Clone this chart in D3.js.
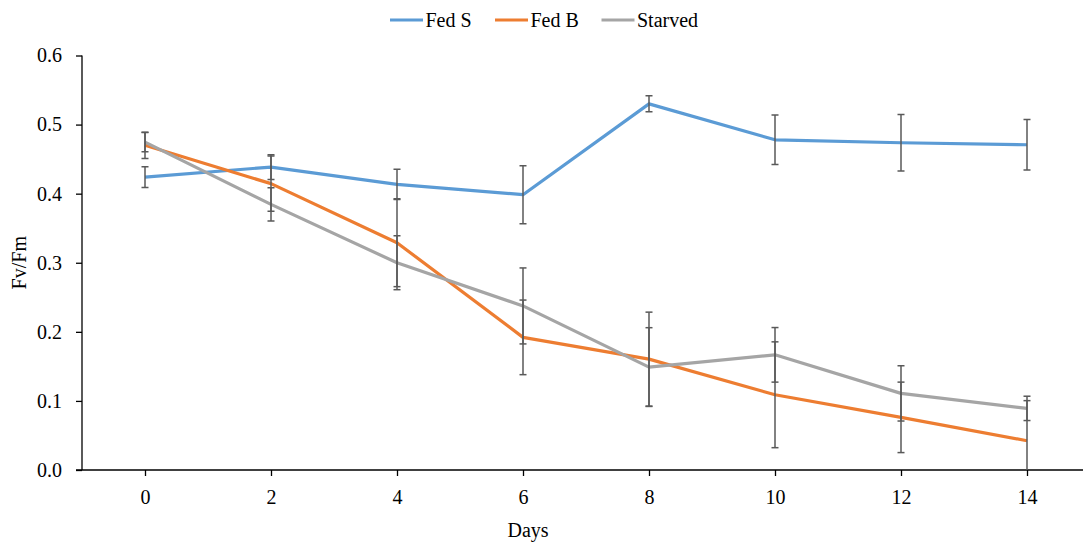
<!DOCTYPE html>
<html><head><meta charset="utf-8">
<script src="https://cdn.jsdelivr.net/npm/d3@7"></script>
<style>
html,body{margin:0;padding:0;background:#fff;}
</style>
</head><body>
<svg id="chart" width="1083" height="542"></svg>
<script>
const days = [0, 2, 4, 6, 8, 10, 12, 14];
const seriesNames = ["Fed S", "Fed B", "Starved"];
const fedS = [0.424, 0.4385, 0.4135, 0.3985, 0.530, 0.478, 0.4737, 0.4708];
const fedSErr = [0.015, 0.018, 0.022, 0.042, 0.0116, 0.0357, 0.041, 0.0366];
const fedB = [0.470, 0.4145, 0.329, 0.192, 0.1605, 0.1089, 0.0762, 0.0424];
const fedBErr = [0.019, 0.040, 0.0636, 0.054, 0.068, 0.0766, 0.051, 0.058];
const starved = [0.4746, 0.3845, 0.300, 0.2375, 0.149, 0.1667, 0.1109, 0.0892];
const starvedErr = [0.014, 0.024, 0.039, 0.055, 0.057, 0.0395, 0.040, 0.0176];
const yTicks = [0, 0.1, 0.2, 0.3, 0.4, 0.5, 0.6];
const colors = ["#5B9BD5", "#ED7D31", "#A5A5A5"];

(function () {
const FONT = "'Liberation Serif', 'Times New Roman', 'DejaVu Serif', serif";
const series = [
  {name: seriesNames[0], values: fedS, err: fedSErr, color: colors[0]},
  {name: seriesNames[1], values: fedB, err: fedBErr, color: colors[1]},
  {name: seriesNames[2], values: starved, err: starvedErr, color: colors[2]}
];

const svg = d3.select("#chart");
const pL = 82, pR = 1090, pT = 55.5, pB = 470;

const x = d3.scalePoint().domain(days).range([pL, pR]).padding(0.5);
const y = d3.scaleLinear().domain([0, 0.6]).range([pB, pT]);

svg.append("defs").append("clipPath").attr("id", "plotClip")
  .append("rect").attr("x", pL).attr("y", pT - 2).attr("width", 1083 - pL).attr("height", pB - pT + 2);

// Y axis
const yAxis = svg.append("g").attr("transform", `translate(${pL},0)`)
  .call(d3.axisLeft(y).tickValues(yTicks).tickFormat(d3.format(".1f")).tickSize(6).tickPadding(14));
yAxis.attr("font-family", null).attr("font-size", null);
yAxis.select(".domain").attr("stroke", "#000").attr("stroke-width", 1.3).attr("d", `M0,${pT}V${pB}`);
yAxis.selectAll(".tick line").attr("stroke", "#000").attr("stroke-width", 1.3);
yAxis.selectAll(".tick text").style("font-size", "20px").style("font-family", FONT).attr("fill", "#000");

// X axis
const xAxis = svg.append("g").attr("transform", `translate(0,${pB})`)
  .call(d3.axisBottom(x).tickSize(6).tickPadding(14));
xAxis.attr("font-family", null).attr("font-size", null);
xAxis.select(".domain").attr("stroke", "#000").attr("stroke-width", 1.3).attr("d", `M${pL - 6},0H${pR}`);
xAxis.selectAll(".tick line").attr("stroke", "#000").attr("stroke-width", 1.3);
xAxis.selectAll(".tick text").style("font-size", "20px").style("font-family", FONT).attr("fill", "#000");

// Series
const plot = svg.append("g").attr("clip-path", "url(#plotClip)");
const line = d3.line().x((d, i) => x(days[i])).y(d => y(d));
series.forEach(s => {
  plot.append("path").datum(s.values)
    .attr("fill", "none").attr("stroke", s.color).attr("stroke-width", 3.2)
    .attr("stroke-linejoin", "round").attr("d", line);
});
series.forEach(s => {
  const g = plot.append("g").attr("stroke", "#595959").attr("stroke-width", 1.5);
  s.values.forEach((v, i) => {
    const cx = x(days[i]);
    const y1 = y(v + s.err[i]), y2 = y(v - s.err[i]);
    g.append("line").attr("x1", cx).attr("x2", cx).attr("y1", y1).attr("y2", y2);
    g.append("line").attr("x1", cx - 3.5).attr("x2", cx + 3.5).attr("y1", y1).attr("y2", y1);
    g.append("line").attr("x1", cx - 3.5).attr("x2", cx + 3.5).attr("y1", y2).attr("y2", y2);
  });
});

// Axis titles
svg.append("text").attr("x", 528).attr("y", 537).attr("text-anchor", "middle")
  .style("font-size", "20px").style("font-family", FONT).text("Days");
svg.append("text").attr("transform", `translate(26,${(pT + pB) / 2}) rotate(-90)`)
  .attr("text-anchor", "middle").style("font-size", "20px").style("font-family", FONT).text("Fv/Fm");

// Legend
const legendX = [390, 495, 601.5];
const legend = svg.append("g");
series.forEach((s, i) => {
  legend.append("line").attr("x1", legendX[i]).attr("x2", legendX[i] + 33)
    .attr("y1", 20).attr("y2", 20).attr("stroke", s.color).attr("stroke-width", 3.2);
  legend.append("text").attr("x", legendX[i] + 35.5).attr("y", 27)
    .style("font-size", "20px").style("font-family", FONT).text(s.name);
});
})();
</script>
</body></html>
